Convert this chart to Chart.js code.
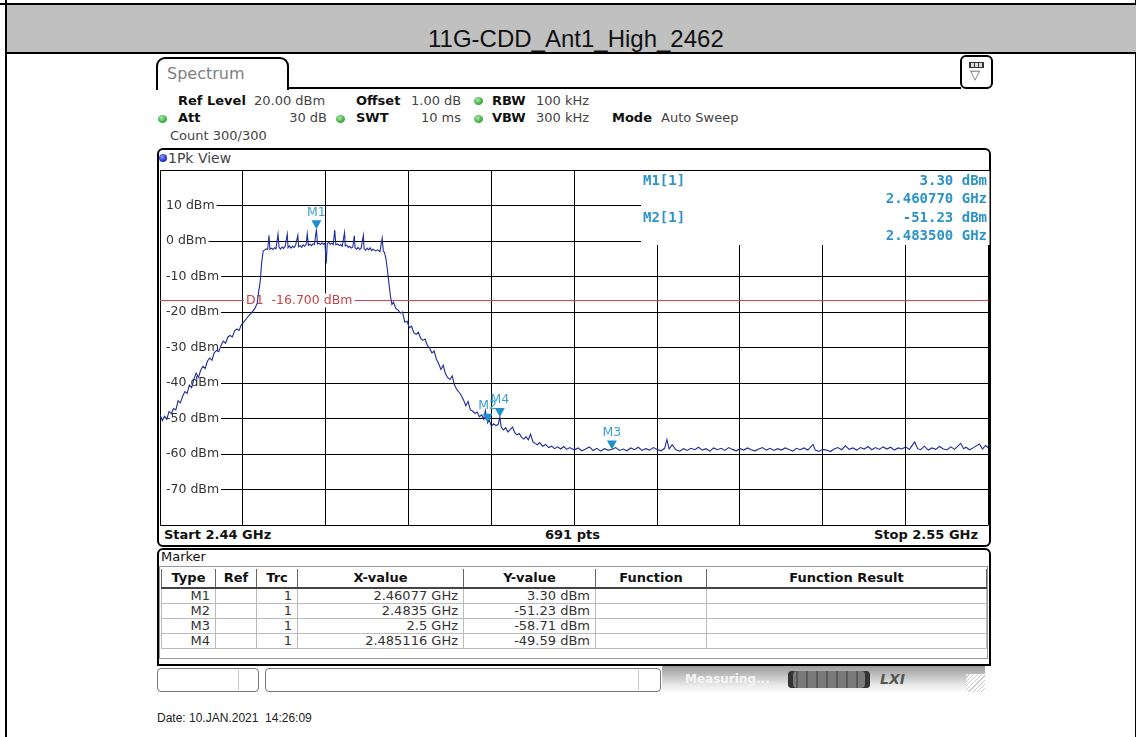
<!DOCTYPE html>
<html>
<head>
<meta charset="utf-8">
<script src="https://cdn.jsdelivr.net/npm/chart.js"></script>
<style>
  body { margin: 0; background: #fff; }
  #page { position: relative; width: 1136px; height: 737px; overflow: hidden; font-family: "DejaVu Sans", sans-serif; }
  .a { position: absolute; white-space: nowrap; }
  .h { position: absolute; white-space: nowrap; font-size: 13px; line-height: 16px; color: #444; }
  .b { font-weight: bold; color: #111; }
  .dot { position: absolute; width: 9px; height: 8px; border-radius: 50%; background: radial-gradient(circle at 40% 35%, #a8e8a8, #3fae3f 60%, #2b7d2b); }
  .mk { position: absolute; white-space: nowrap; font: bold 14px/18px "DejaVu Sans Mono", monospace; color: #2c93c9; }
  #tbl { position: absolute; left: 161px; top: 569px; width: 825px; border-collapse: collapse; table-layout: fixed; font-size: 13px; color: #333; }
  #tbl th { height: 18px; font-weight: bold; color: #111; border-left: 1px solid #666; border-right: 1px solid #666; border-bottom: 2px solid #444; padding: 0; line-height: 16px; }
  #tbl td { height: 14px; line-height: 14px; border: 1px solid #bbb; padding: 0 5px; text-align: right; }
</style>
</head>
<body>
<div id="page">
  <!-- outer frame and title band -->
  <div class="a" style="left:5px;top:0;width:2px;height:737px;background:#000"></div>
  <div class="a" style="left:1135px;top:0;width:1px;height:737px;background:#000"></div>
  <div class="a" style="left:0;top:3px;width:7px;height:2px;background:#000"></div>
  <div class="a" style="left:7px;top:3px;width:1129px;height:51px;box-sizing:border-box;border-top:2px solid #000;border-bottom:2px solid #000;background:#c0c0c0"></div>
  <div class="a" style="left:428px;top:27px;font:24px/24px 'Liberation Sans', Arial, sans-serif;color:#111">11G-CDD_Ant1_High_2462</div>

  <!-- spectrum tab -->
  <div class="a" style="left:156px;top:57px;width:133px;height:33px;box-sizing:border-box;border:2px solid #000;border-bottom:none;border-radius:9px 9px 0 0"></div>
  <div class="a" style="left:167px;top:64px;font-size:16px;line-height:20px;color:#808080">Spectrum</div>
  <div class="a" style="left:287px;top:87px;width:674px;height:2px;background:#000"></div>
  <div class="a" style="left:960px;top:55px;width:33px;height:34px;box-sizing:border-box;border:2px solid #000;border-radius:6px"></div>
  <div class="a" style="left:969px;top:62px;width:15px;height:6px;background:#333"></div>
  <div class="a" style="left:971px;top:63px;width:3px;height:4px;background:#ddd"></div>
  <div class="a" style="left:975px;top:63px;width:3px;height:4px;background:#ddd"></div>
  <div class="a" style="left:979px;top:63px;width:3px;height:4px;background:#ddd"></div>
  <div class="a" style="left:970px;top:67px;font-size:13px;line-height:16px;color:#555">▽</div>

  <!-- instrument settings -->
  <div class="h b" style="left:178px;top:93px">Ref Level</div>
  <div class="h" style="left:254px;top:93px">20.00 dBm</div>
  <div class="h b" style="left:356px;top:93px">Offset</div>
  <div class="h" style="left:411px;top:93px">1.00 dB</div>
  <div class="dot" style="left:474px;top:97px"></div>
  <div class="h b" style="left:492px;top:93px">RBW</div>
  <div class="h" style="left:536px;top:93px">100 kHz</div>

  <div class="dot" style="left:158px;top:115px"></div>
  <div class="h b" style="left:178px;top:110px">Att</div>
  <div class="h" style="right:809px;top:110px">30 dB</div>
  <div class="dot" style="left:336px;top:115px"></div>
  <div class="h b" style="left:356px;top:110px">SWT</div>
  <div class="h" style="right:675px;top:110px">10 ms</div>
  <div class="dot" style="left:474px;top:115px"></div>
  <div class="h b" style="left:492px;top:110px">VBW</div>
  <div class="h" style="left:536px;top:110px">300 kHz</div>
  <div class="h b" style="left:612px;top:110px">Mode</div>
  <div class="h" style="left:661px;top:110px">Auto Sweep</div>

  <div class="h" style="left:170px;top:128px">Count 300/300</div>

  <!-- plot frame -->
  <div class="a" style="left:157px;top:148px;width:834px;height:399px;box-sizing:border-box;border:2px solid #000;border-radius:6px"></div>
  <div class="a" style="left:159px;top:154px;width:8px;height:8px;border-radius:50%;background:radial-gradient(circle at 40% 35%, #8aa0ff, #2233cc 60%, #10208a)"></div>
  <div class="a" style="left:168px;top:150px;font-size:14px;line-height:17px;color:#444">1Pk View</div>
  <div class="h b" style="left:164px;top:527px">Start 2.44 GHz</div>
  <div class="h b" style="left:545px;top:527px">691 pts</div>
  <div class="h b" style="right:158px;top:527px">Stop 2.55 GHz</div>

  <!-- marker table -->
  <div class="a" style="left:157px;top:548px;width:834px;height:118px;box-sizing:border-box;border:2px solid #000;border-radius:6px 6px 0 0"></div>
  <div class="a" style="left:159px;top:566px;width:829px;height:93px;box-sizing:border-box;border:1px solid #999"></div>
  <div class="h" style="left:161px;top:549px;color:#111">Marker</div>
  <table id="tbl">
    <colgroup><col style="width:54px"><col style="width:41px"><col style="width:41px"><col style="width:166px"><col style="width:132px"><col style="width:111px"><col style="width:280px"></colgroup>
    <tr><th>Type</th><th>Ref</th><th>Trc</th><th>X-value</th><th>Y-value</th><th>Function</th><th>Function Result</th></tr>
    <tr><td>M1</td><td></td><td>1</td><td>2.46077 GHz</td><td>3.30 dBm</td><td></td><td></td></tr>
    <tr><td>M2</td><td></td><td>1</td><td>2.4835 GHz</td><td>-51.23 dBm</td><td></td><td></td></tr>
    <tr><td>M3</td><td></td><td>1</td><td>2.5 GHz</td><td>-58.71 dBm</td><td></td><td></td></tr>
    <tr><td>M4</td><td></td><td>1</td><td>2.485116 GHz</td><td>-49.59 dBm</td><td></td><td></td></tr>
  </table>

  <!-- status bar -->
  <div class="a" style="left:157px;top:668px;width:102px;height:24px;box-sizing:border-box;border:1px solid #777;border-radius:4px"></div>
  <div class="a" style="left:238px;top:670px;width:1px;height:20px;background:#ccc"></div>
  <div class="a" style="left:265px;top:668px;width:396px;height:24px;box-sizing:border-box;border:1px solid #777;border-radius:4px"></div>
  <div class="a" style="left:638px;top:670px;width:1px;height:20px;background:#ccc"></div>
  <div class="a" style="left:662px;top:666px;width:323px;height:27px;background:linear-gradient(#9a9a9a, #e8e8e8 70%, #fff)"></div>
  <div class="a" style="left:685px;top:672px;font-size:12px;line-height:15px;font-weight:bold;color:#f4f4f4">Measuring...</div>
  <div class="a" style="left:788px;top:671px;width:82px;height:17px;border-radius:4px;background:repeating-linear-gradient(90deg, #7a7a7a 0 8px, #5a5a5a 8px 10px);box-shadow:inset 5px 0 0 #333, inset -5px 0 0 #333"></div>
  <div class="a" style="left:880px;top:671px;font-size:14px;line-height:17px;font-weight:bold;font-style:italic;color:#555">LXI</div>
  <div class="a" style="left:966px;top:674px;width:19px;height:18px;background:repeating-linear-gradient(135deg, #fff 0 2px, #ccc 2px 3px)"></div>

  <div class="a" style="left:157px;top:711px;font:12px/14px 'Liberation Sans', Arial, sans-serif;color:#222">Date: 10.JAN.2021&nbsp; 14:26:09</div>

  <canvas id="chart" class="a" style="left:0;top:0" width="1136" height="737"></canvas>

  <!-- marker readout -->
  <div class="mk" style="left:643px;top:171px">M1[1]</div>
  <div class="mk" style="right:149px;top:171px">3.30 dBm</div>
  <div class="mk" style="right:149px;top:189px">2.460770 GHz</div>
  <div class="mk" style="left:643px;top:208px">M2[1]</div>
  <div class="mk" style="right:149px;top:208px">-51.23 dBm</div>
  <div class="mk" style="right:149px;top:226px">2.483500 GHz</div>
</div>

<script>
// trace 1 (frequency MHz, level dBm)
const leftSkirt = [
  [2440.0,-48.8],[2440.3,-50.6],[2440.6,-49.4],[2440.9,-50.2],[2441.2,-48.0],[2441.5,-48.6],[2441.8,-47.2],[2442.1,-47.6],[2442.4,-45.0],[2442.7,-45.6],
  [2443.0,-43.8],[2443.3,-42.4],[2443.6,-42.9],[2443.9,-40.6],[2444.2,-41.3],[2444.5,-38.9],[2444.8,-37.2],[2445.1,-38.4],[2445.4,-36.4],[2445.7,-35.3],
  [2446.0,-35.9],[2446.3,-33.8],[2446.6,-33.0],[2446.9,-33.6],[2447.2,-31.5],[2447.5,-30.8],[2447.8,-31.2],[2448.1,-29.4],[2448.4,-28.2],[2448.7,-28.8],
  [2449.0,-27.1],[2449.3,-26.6],[2449.6,-27.0],[2449.9,-25.4],[2450.2,-24.8],[2450.5,-25.2],[2450.8,-23.6],[2451.1,-22.9],[2451.4,-22.1],[2451.7,-21.2],
  [2452.0,-20.6],[2452.3,-19.8],[2452.6,-19.0],[2452.9,-17.6],[2453.1,-14.2],[2453.3,-11.5],[2453.5,-6.0],[2453.7,-2.8]
];
const plateau = [
  [2453.9,-2.5],[2454.1,-2.2],[2454.3,-2.4],[2454.47,1.6],[2454.6,-2.3],[2454.8,-2.0],[2455.0,-2.4],[2455.2,-1.9],[2455.4,-2.2],[2455.67,1.9],
  [2455.8,-1.8],[2456.0,-2.3],[2456.2,-1.7],[2456.4,-2.1],[2456.6,-1.6],[2456.9,1.9],[2457.0,-1.9],[2457.2,-1.4],[2457.4,-2.0],[2457.6,-1.5],
  [2457.8,-1.8],[2458.0,-1.2],[2458.3,1.6],[2458.4,-1.6],[2458.6,-1.3],[2458.8,-1.8],[2459.0,-1.1],[2459.2,-1.5],[2459.4,-1.0],[2459.55,2.0],
  [2459.7,-1.2],[2459.9,-0.9],[2460.1,-1.3],[2460.3,-0.8],[2460.5,-1.0],[2460.77,3.3],[2460.9,-0.8],[2461.1,-0.6],[2461.3,-1.0],[2461.5,-0.5],
  [2461.7,-0.9],[2461.9,-0.6],[2462.07,-6.3],[2462.2,-0.7],[2462.4,-0.4],[2462.6,-0.9],[2462.8,-0.6],[2463.0,-1.0],[2463.2,3.1],[2463.35,-1.1],
  [2463.6,-0.8],[2463.8,-1.3],[2464.0,-1.0],[2464.2,-1.5],[2464.5,2.4],[2464.6,-1.4],[2464.8,-1.2],[2465.0,-1.8],[2465.2,-1.5],[2465.4,-2.0],
  [2465.6,-1.7],[2465.8,1.5],[2465.9,-1.9],[2466.1,-2.3],[2466.3,-1.8],[2466.5,-2.4],[2466.7,-2.1],[2467.0,1.6],[2467.1,-2.2],[2467.3,-2.6],
  [2467.5,-2.0],[2467.7,-2.5],[2467.9,-1.9],[2468.1,-2.7],[2468.3,-2.3],[2468.6,-2.8],[2468.9,-2.5],[2469.2,-3.0],[2469.5,0.8],[2469.65,-2.9],
  [2469.8,-3.2]
];
const rightSkirt = [
  [2470.0,-5.0],[2470.2,-8.2],[2470.4,-12.0],[2470.6,-15.6],[2470.8,-17.9],[2471.0,-17.2],[2471.3,-19.0],[2471.6,-19.4],[2471.9,-20.3],[2472.2,-20.0],
  [2472.5,-22.8],[2472.8,-22.6],[2473.1,-24.4],[2473.4,-24.0],[2473.7,-25.8],[2474.0,-26.3],[2474.3,-25.7],[2474.6,-27.4],[2474.9,-28.0],[2475.2,-27.6],
  [2475.5,-29.4],[2475.8,-30.2],[2476.1,-31.5],[2476.4,-31.0],[2476.7,-33.3],[2477.0,-34.6],[2477.3,-36.2],[2477.6,-35.0],[2477.9,-37.4],[2478.2,-38.5],
  [2478.5,-39.0],[2478.8,-38.0],[2479.1,-40.6],[2479.4,-41.8],[2479.7,-42.6],[2480.0,-43.5],[2480.3,-44.8],[2480.6,-46.4],[2480.9,-45.2],[2481.2,-47.5],
  [2481.5,-47.9],[2481.8,-48.6],[2482.1,-48.2],[2482.4,-49.5],[2482.7,-49.0],[2483.0,-50.2],[2483.2,-47.8],[2483.5,-51.23],[2483.7,-50.4],[2484.0,-52.2],
  [2484.3,-51.5],[2484.6,-52.0],[2484.9,-51.7],[2485.116,-49.59],[2485.3,-52.4],[2485.6,-53.2],[2485.9,-52.6],[2486.2,-53.8],[2486.5,-53.1],[2486.8,-52.4],
  [2487.1,-54.0],[2487.4,-54.6],[2487.7,-54.2],[2488.0,-55.3],[2488.3,-55.8],[2488.6,-55.1],[2488.9,-56.0],[2489.2,-54.4],[2489.5,-56.5],[2489.8,-57.0],
  [2490.1,-57.4],[2490.4,-56.8],[2490.8,-57.8],[2491.2,-57.3],[2491.6,-58.2],[2492.0,-57.8],[2492.4,-58.5],[2492.8,-58.0],[2493.2,-58.6],[2493.6,-57.9],
  [2494.0,-58.7],[2494.4,-58.2]
];
const noiseFloor = [
  [2495.0,-58.9],[2495.5,-58.3],[2496.0,-59.1],[2496.5,-58.6],[2497.0,-58.0],[2497.5,-59.0],[2498.0,-58.4],[2498.5,-59.2],[2499.0,-58.5],[2499.5,-58.9],
  [2500.0,-58.71],[2500.5,-58.2],[2501.0,-59.0],[2501.5,-58.6],[2502.0,-59.1],[2502.5,-58.3],[2503.0,-58.8],[2503.5,-58.1],[2504.0,-59.0],[2504.5,-58.5],
  [2505.0,-58.9],[2505.5,-58.2],[2506.0,-58.7],[2506.5,-59.1],[2507.0,-58.4],[2507.3,-55.9],[2507.6,-58.6],[2508.0,-57.4],[2508.5,-58.8],[2509.0,-59.2],
  [2509.5,-58.5],[2510.0,-59.0],[2510.5,-58.4],[2511.0,-58.8],[2511.5,-58.1],[2512.0,-58.9],[2512.5,-58.5],[2513.0,-59.2],[2513.5,-58.3],[2514.0,-58.8],
  [2514.5,-58.4],[2515.0,-59.0],[2515.5,-58.2],[2516.0,-58.7],[2516.5,-59.1],[2517.0,-58.5],[2517.5,-58.9],[2518.0,-58.3],[2518.5,-58.8],[2519.0,-59.1],
  [2519.5,-58.6],[2520.0,-58.2],[2520.5,-58.9],[2521.0,-58.4],[2521.5,-59.0],[2522.0,-58.5],[2522.5,-58.9],[2523.0,-58.3],[2523.5,-58.7],[2524.0,-59.2],
  [2524.5,-58.4],[2525.0,-58.8],[2525.5,-58.3],[2526.0,-58.9],[2526.7,-57.3],[2527.0,-58.9],[2527.5,-59.3],[2528.0,-58.7],[2528.5,-58.9],[2529.0,-59.3],
  [2529.5,-58.6],[2530.0,-58.2],[2530.5,-58.8],[2531.0,-57.7],[2531.5,-58.7],[2532.0,-58.3],[2532.5,-58.9],[2533.0,-58.2],[2533.5,-58.6],[2534.0,-57.9],
  [2534.5,-58.8],[2535.0,-58.2],[2535.5,-58.7],[2536.0,-58.0],[2536.5,-58.6],[2537.0,-58.1],[2537.5,-58.9],[2538.0,-58.3],[2538.5,-58.6],[2539.0,-58.0],
  [2539.5,-58.7],[2540.2,-56.6],[2540.6,-58.5],[2541.0,-58.8],[2541.5,-57.8],[2542.0,-58.9],[2542.5,-58.3],[2543.0,-58.7],[2543.5,-57.9],[2544.0,-58.6],
  [2544.5,-58.8],[2545.0,-58.0],[2545.5,-58.7],[2546.3,-57.0],[2546.7,-58.5],[2547.0,-58.1],[2547.5,-58.8],[2548.0,-58.2],[2548.8,-57.2],[2549.2,-58.6],
  [2549.6,-57.6],[2550.0,-58.3]
];

// markers
const markerNames = ['M1', 'M2', 'M3', 'M4'];
const markerFreqMHz = [2460.77, 2483.5, 2500.0, 2485.116];
const markerLevelDbm = [3.30, -51.23, -58.71, -49.59];

// axis
const yTickValues = [10, 0, -10, -20, -30, -40, -50, -60, -70];
const startMHz = 2440, stopMHz = 2550;
const refLevel = 20, bottomLevel = -80;
const displayLine = -16.7;

const trace = leftSkirt.concat(plateau, rightSkirt, noiseFloor).map(p => ({ x: p[0], y: p[1] }));

const overlay = {
  id: 'overlay',
  beforeDatasetsDraw(chart) {
    const { ctx, chartArea: a, scales: { x, y } } = chart;
    ctx.save();
    // marker readout area hides the grid
    const boxLeft = a.left + a.width * 0.5806;
    ctx.fillStyle = '#fff';
    ctx.fillRect(boxLeft, a.top + 1, a.right - boxLeft + 1, 74);

    // level labels
    ctx.font = '12.5px "DejaVu Sans"';
    ctx.textBaseline = 'middle';
    ctx.textAlign = 'left';
    yTickValues.forEach(v => {
      const py = y.getPixelForValue(v);
      const txt = v + ' dBm';
      const w = ctx.measureText(txt).width;
      ctx.fillStyle = '#fff';
      ctx.fillRect(a.left + 1, py - 7, w + 7, 14);
      ctx.fillStyle = '#333';
      ctx.fillText(txt, a.left + 6, py);
    });

    // display line D1
    const dy = Math.round(y.getPixelForValue(displayLine)) + 0.5;
    ctx.strokeStyle = '#cc4a4a';
    ctx.lineWidth = 1;
    ctx.beginPath();
    ctx.moveTo(a.left, dy);
    ctx.lineTo(a.right, dy);
    ctx.stroke();
    const d1 = 'D1  ' + displayLine.toFixed(3) + ' dBm';
    ctx.font = '12.5px "DejaVu Sans"';
    const dw = ctx.measureText(d1).width;
    ctx.fillStyle = '#fff';
    ctx.fillRect(a.left + 84, dy - 7, dw + 4, 14);
    ctx.fillStyle = '#c84444';
    ctx.fillText(d1, a.left + 86, dy);
    ctx.restore();
  },
  afterDatasetsDraw(chart) {
    const { ctx, scales: { x, y } } = chart;
    ctx.save();
    ctx.font = '12.5px "DejaVu Sans"';
    ctx.textAlign = 'center';
    ctx.textBaseline = 'middle';
    markerNames.forEach((n, i) => {
      const px = x.getPixelForValue(markerFreqMHz[i]);
      const py = y.getPixelForValue(markerLevelDbm[i]);
      ctx.fillStyle = '#1f8fd0';
      ctx.beginPath();
      ctx.moveTo(px - 5, py - 9);
      ctx.lineTo(px + 5, py - 9);
      ctx.lineTo(px, py);
      ctx.closePath();
      ctx.fill();
      ctx.fillStyle = '#3a9fd2';
      ctx.fillText(n, px, py - 17);
    });
    ctx.restore();
  }
};

new Chart(document.getElementById('chart'), {
  type: 'line',
  data: {
    datasets: [{
      data: trace,
      borderColor: '#1e2c9c',
      borderWidth: 1.1,
      pointRadius: 0,
      tension: 0
    }]
  },
  options: {
    responsive: false,
    animation: false,
    devicePixelRatio: 1,
    layout: { padding: { left: 160, right: 147.5, top: 170, bottom: 212 } },
    plugins: { legend: { display: false }, tooltip: { enabled: false } },
    scales: {
      x: {
        type: 'linear', min: startMHz, max: stopMHz,
        ticks: { display: false, stepSize: 11 },
        grid: { color: '#000', lineWidth: 1, drawTicks: false },
        border: { display: false }
      },
      y: {
        min: bottomLevel, max: refLevel,
        ticks: { display: false, stepSize: 10 },
        grid: { color: '#000', lineWidth: 1, drawTicks: false },
        border: { display: false }
      }
    }
  },
  plugins: [overlay]
});
</script>
</body>
</html>
